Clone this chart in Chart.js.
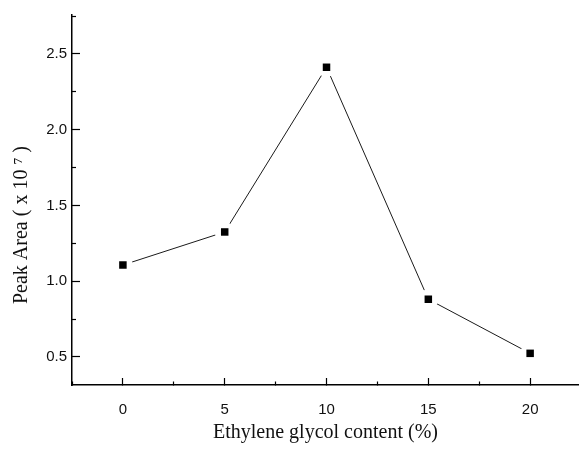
<!DOCTYPE html>
<html>
<head>
<meta charset="utf-8">
<script src="https://cdn.jsdelivr.net/npm/chart.js@4.4.1/dist/chart.umd.min.js"></script>
<style>
  html, body { margin: 0; padding: 0; background: #fff; overflow: hidden; }
  canvas { display: block; }
</style>
</head>
<body>
<canvas id="c" width="579" height="449"></canvas>
<script>
// ---- data ----
const glycolContent = [0, 5, 10, 15, 20];            // x, %
const peakArea = [1.107, 1.325, 2.412, 0.881, 0.524]; // y, x10^7
const xTitle = 'Ethylene glycol content (%)';
const yTitle = 'Peak Area ( x 10 \u2077 )';

const pts = glycolContent.map((x, i) => ({ x: x, y: peakArea[i] }));

const isMajor = (v, step) => Math.abs(v / step - Math.round(v / step)) < 1e-6;

const serif = '"Liberation Serif", "Times New Roman", serif';
const sans = '"Liberation Sans", Arial, sans-serif';

new Chart(document.getElementById('c'), {
  type: 'scatter',
  data: {
    datasets: [
      { // connecting line
        data: pts, showLine: true, borderColor: '#1a1a1a', borderWidth: 1,
        pointRadius: 0, order: 3
      },
      { // white gap around markers
        data: pts, showLine: false, pointStyle: 'circle', pointRadius: 10,
        pointBackgroundColor: '#ffffff', pointBorderWidth: 0, borderColor: '#ffffff', order: 2
      },
      { // square markers
        data: pts, showLine: false, pointStyle: 'rect', pointRadius: 5.3,
        pointBackgroundColor: '#000000', pointBorderColor: '#000000', pointBorderWidth: 0, order: 1
      }
    ]
  },
  options: {
    responsive: false,
    animation: false,
    devicePixelRatio: 1,
    layout: { autoPadding: false, padding: { top: 15, right: 0, left: 0, bottom: 0 } },
    plugins: { legend: { display: false }, tooltip: { enabled: false } },
    scales: {
      x: {
        type: 'linear', position: 'bottom',
        min: -2.5, max: 22.4,
        afterFit: s => { s.height = 64; s.paddingLeft = 0; s.paddingRight = 0; },
        border: { display: true, color: '#000', width: 1.5 },
        grid: {
          drawOnChartArea: false, drawTicks: true, tickLength: -7,
          tickColor: '#000', tickWidth: 1.2,
          tickBorderDash: ctx => (ctx.tick && isMajor(ctx.tick.value, 5)) ? [] : [4, 50],
          tickBorderDashOffset: 0
        },
        ticks: {
          stepSize: 2.5, autoSkip: false, includeBounds: false, maxRotation: 0,
          padding: 23, color: '#111',
          font: { family: sans, size: 15 },
          callback: v => (isMajor(v, 5) && v >= 0) ? String(Math.round(v)) : ''
        },
        title: {
          display: true, text: xTitle, color: '#111',
          font: { family: serif, size: 20 },
          padding: { top: 0, bottom: 4 }
        }
      },
      y: {
        type: 'linear', position: 'left',
        min: 0.315, max: 2.757,
        afterFit: s => { s.width = 72; s.paddingTop = 0; s.paddingBottom = 0; },
        border: { display: true, color: '#000', width: 1.5 },
        grid: {
          drawOnChartArea: false, drawTicks: true, tickLength: -8,
          tickColor: '#000', tickWidth: 1.2,
          tickBorderDash: ctx => (ctx.tick && isMajor(ctx.tick.value, 0.5)) ? [] : [4, 50],
          tickBorderDashOffset: ctx => (ctx.tick && isMajor(ctx.tick.value, 0.5)) ? 0 : 50
        },
        ticks: {
          stepSize: 0.25, autoSkip: false, includeBounds: false,
          padding: 13, color: '#111',
          font: { family: sans, size: 15 },
          callback: v => isMajor(v, 0.5) ? v.toFixed(1) : ''
        },
        title: {
          display: true, text: yTitle + '          ', color: '#111',
          font: { family: serif, size: 20 },
          padding: { top: 10, bottom: 0 }
        }
      }
    }
  }
});
</script>
</body>
</html>
